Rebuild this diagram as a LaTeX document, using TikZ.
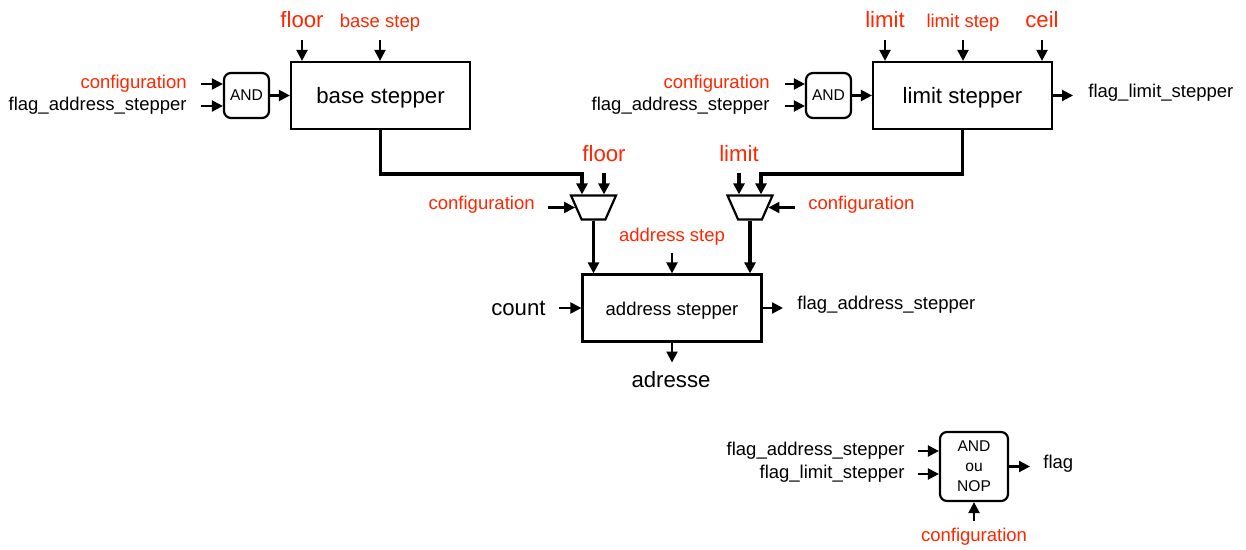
\documentclass[tikz,border=0pt]{standalone}
\usepackage{fontspec}
\setmainfont{Liberation Sans}
\usetikzlibrary{arrows.meta,shapes.geometric}
\definecolor{cfgred}{RGB}{255,38,0}
\tikzset{
  sig/.style={line width=1.1pt, -{Triangle[length=5.5pt,width=5.5pt]}},
  bus/.style={sig, line width=1.6pt},
  stepper/.style={draw, line width=1.1pt, minimum width=89.5pt, minimum height=33.5pt, inner sep=0pt, text depth=0pt},
  gate/.style={draw, line width=1.1pt, rounded corners=3.5pt, minimum size=22.5pt, inner sep=0pt, font=\fontsize{7.8}{10}\selectfont},
  mux/.style={draw, line width=1.1pt, trapezium, shape border rotate=180, trapezium stretches=true, trapezium angle=66, minimum width=22.5pt, minimum height=12pt, inner sep=1pt},
  lbl/.style={inner sep=0pt, font=\fontsize{9.25}{11}\selectfont},
  big/.style={inner sep=0pt, font=\fontsize{11.1}{13}\selectfont},
  cfg/.style={text=cfgred},
}
\begin{document}
\begin{tikzpicture}[x=0.5pt, y=-0.5pt]
  \useasboundingbox (0,0) rectangle (1246,550);
  \node[stepper, big, text height=8pt] (bs) at (380.5,95.5) {base stepper};
  \node[stepper, big, text height=8pt] (ls) at (962.5,95.5) {limit stepper};
  \node[stepper, lbl, text height=7pt] (as) at (672,308) {address stepper};
  \node[gate] (andA) at (246.5,95.5) {AND};
  \node[gate] (andB) at (828.5,95.5) {AND};
  \node[gate, minimum width=34pt, minimum height=34.5pt, align=center] (nop) at (974,466.5) {AND\\ou\\NOP};
  \node[mux] (lm) at (593.5,207.5) {};
  \node[mux] (rm) at (750,207.5) {};
  % base stepper
  \node[big, cfg, anchor=base] (flA) at (302,28) {floor};
  \node[lbl, cfg, anchor=base] (bstep) at (380,28) {base step};
  \node[lbl, cfg, anchor=east] (cfgA) at (187,84) {configuration};
  \node[lbl, anchor=east] (faA) at (187,106) {flag\_address\_stepper};
  \draw[sig, shorten <=6pt] (flA.base) -- (flA.base |- bs.north);
  \draw[sig, shorten <=6pt] (bstep.base) -- (bstep.base |- bs.north);
  \draw[sig, shorten <=7pt] (cfgA.east) -- (cfgA.east -| andA.west);
  \draw[sig, shorten <=7pt] (faA.east) -- (faA.east -| andA.west);
  \draw[sig] (andA.east) -- (bs.west |- andA.east);
  % limit stepper
  \node[big, cfg, anchor=base] (limA) at (885,28) {limit};
  \node[lbl, cfg, anchor=base] (lstep) at (963,28) {limit step};
  \node[big, cfg, anchor=base] (ceil) at (1042,28) {ceil};
  \node[lbl, cfg, anchor=east] (cfgB) at (770,84) {configuration};
  \node[lbl, anchor=east] (faB) at (770,106) {flag\_address\_stepper};
  \node[lbl, anchor=west] (fls) at (1088,93) {flag\_limit\_stepper};
  \draw[sig, shorten <=6pt] (limA.base) -- (limA.base |- ls.north);
  \draw[sig, shorten <=6pt] (lstep.base) -- (lstep.base |- ls.north);
  \draw[sig, shorten <=6pt] (ceil.base) -- (ceil.base |- ls.north);
  \draw[sig, shorten <=7.5pt] (cfgB.east) -- (cfgB.east -| andB.west);
  \draw[sig, shorten <=7.5pt] (faB.east) -- (faB.east -| andB.west);
  \draw[sig] (andB.east) -- (ls.west |- andB.east);
  \draw[sig, shorten >=7.5pt] (ls.east) -- (ls.east -| fls.west);
  % muxes
  \node[big, cfg, anchor=base] (flB) at (604,162) {floor};
  \node[big, cfg, anchor=base] (limB) at (739,162) {limit};
  \node[lbl, cfg, anchor=east] (cfgL) at (535,205) {configuration};
  \node[lbl, cfg, anchor=west] (cfgR) at (808,205) {configuration};
  \draw[bus] (bs.south) -- ++(0,44) -| ([xshift=-5.75pt]lm.north);
  \draw[bus] (ls.south) -- ++(0,44) -| ([xshift=5.5pt]rm.north);
  \draw[bus, shorten <=5.5pt] (flB.base) -- (flB.base |- lm.north);
  \draw[bus, shorten <=5.5pt] (limB.base) -- (limB.base |- rm.north);
  \draw[sig, shorten <=6.5pt] (cfgL.east |- lm.west) -- (lm.west);
  \draw[sig, shorten <=6.5pt] (cfgR.west |- rm.east) -- (rm.east);
  \draw[bus] (lm.south) -- (lm.south |- as.north);
  \draw[bus] (rm.south) -- (rm.south |- as.north);
  % address stepper
  \node[lbl, cfg, anchor=base] (astep) at (672,242) {address step};
  \node[big, anchor=east] (cnt) at (546,308) {count};
  \node[lbl, anchor=west] (fas) at (797,305) {flag\_address\_stepper};
  \node[big, anchor=base] (adr) at (671,387) {adresse};
  \draw[sig, shorten <=5.5pt] (astep.base) -- (astep.base |- as.north);
  \draw[sig, shorten <=6.5pt] (cnt.east) -- (as.west);
  \draw[sig, shorten >=7pt] (as.east) -- (as.east -| fas.west);
  \draw[sig, shorten >=4pt] (as.south) -- (as.south |- adr.north);
  % flag
  \node[lbl, anchor=east] (faC) at (905,451) {flag\_address\_stepper};
  \node[lbl, anchor=east] (flC) at (905,474) {flag\_limit\_stepper};
  \node[lbl, anchor=west] (flg) at (1043,464) {flag};
  \node[lbl, cfg, anchor=base] (cfgC) at (974,541) {configuration};
  \draw[sig, shorten <=6.5pt] (faC.east) -- (faC.east -| nop.west);
  \draw[sig, shorten <=6.5pt] (flC.east) -- (flC.east -| nop.west);
  \draw[sig, shorten >=6.5pt] (nop.east) -- (nop.east -| flg.west);
  \draw[sig, shorten <=3.25pt] (cfgC.north) -- (cfgC.north |- nop.south);
\end{tikzpicture}
\end{document}
